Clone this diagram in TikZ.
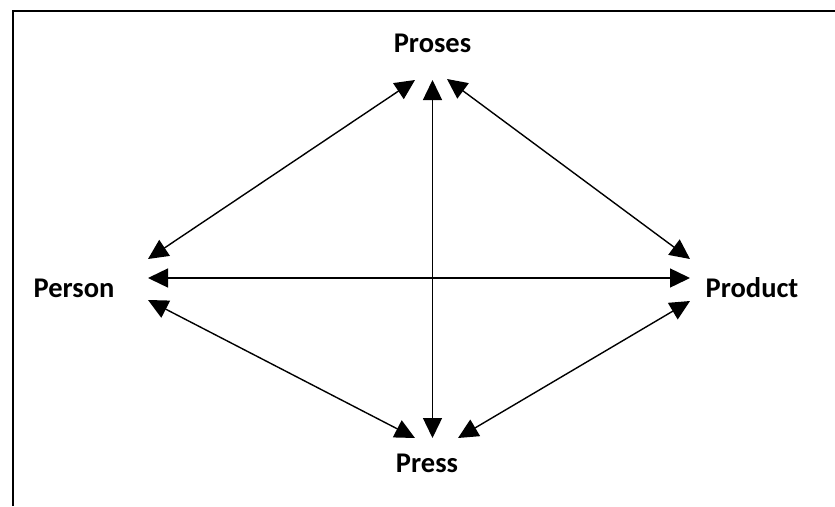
\documentclass[tikz,border=0pt]{standalone}
\usepackage{fontspec}
\setmainfont{Carlito}
\usetikzlibrary{arrows.meta}
\begin{document}
\begin{tikzpicture}[x=1pt,y=-1pt,
  lbl/.style={font=\fontsize{28.5}{34}\selectfont\bfseries, anchor=base, inner sep=0pt},
  conn/.style={line width=1.4pt, {Triangle[length=20pt,width=19pt]}-{Triangle[length=20pt,width=19pt]}}]
\useasboundingbox (0,0) rectangle (835,506);
\draw[line width=2.4pt] (13,506) -- (13,11) -- (835,11);
\node[lbl] (proses) at (432.5,52) {Proses};
\node[lbl] (person) at (74,297) {Person};
\node[lbl] (product) at (752,297) {Product};
\node[lbl] (press) at (427,472.5) {Press};
% arrow end points
\coordinate (pT) at (432.5,80);
\coordinate (pL) at (415,80);
\coordinate (pR) at (447,79);
\coordinate (sB) at (432.5,438);
\coordinate (sL) at (415,438);
\coordinate (sR) at (458,438);
\coordinate (eU) at (148,259);
\coordinate (eM) at (148,278);
\coordinate (eD) at (148,300);
\coordinate (dU) at (690,259);
\coordinate (dM) at (690,278);
\coordinate (dD) at (690,301);
\draw[conn] (pT) -- (sB);
\draw[conn] (eM) -- (dM);
\draw[conn] (pL) -- (eU);
\draw[conn] (pR) -- (dU);
\draw[conn] (sL) -- (eD);
\draw[conn] (sR) -- (dD);
\end{tikzpicture}
\end{document}
